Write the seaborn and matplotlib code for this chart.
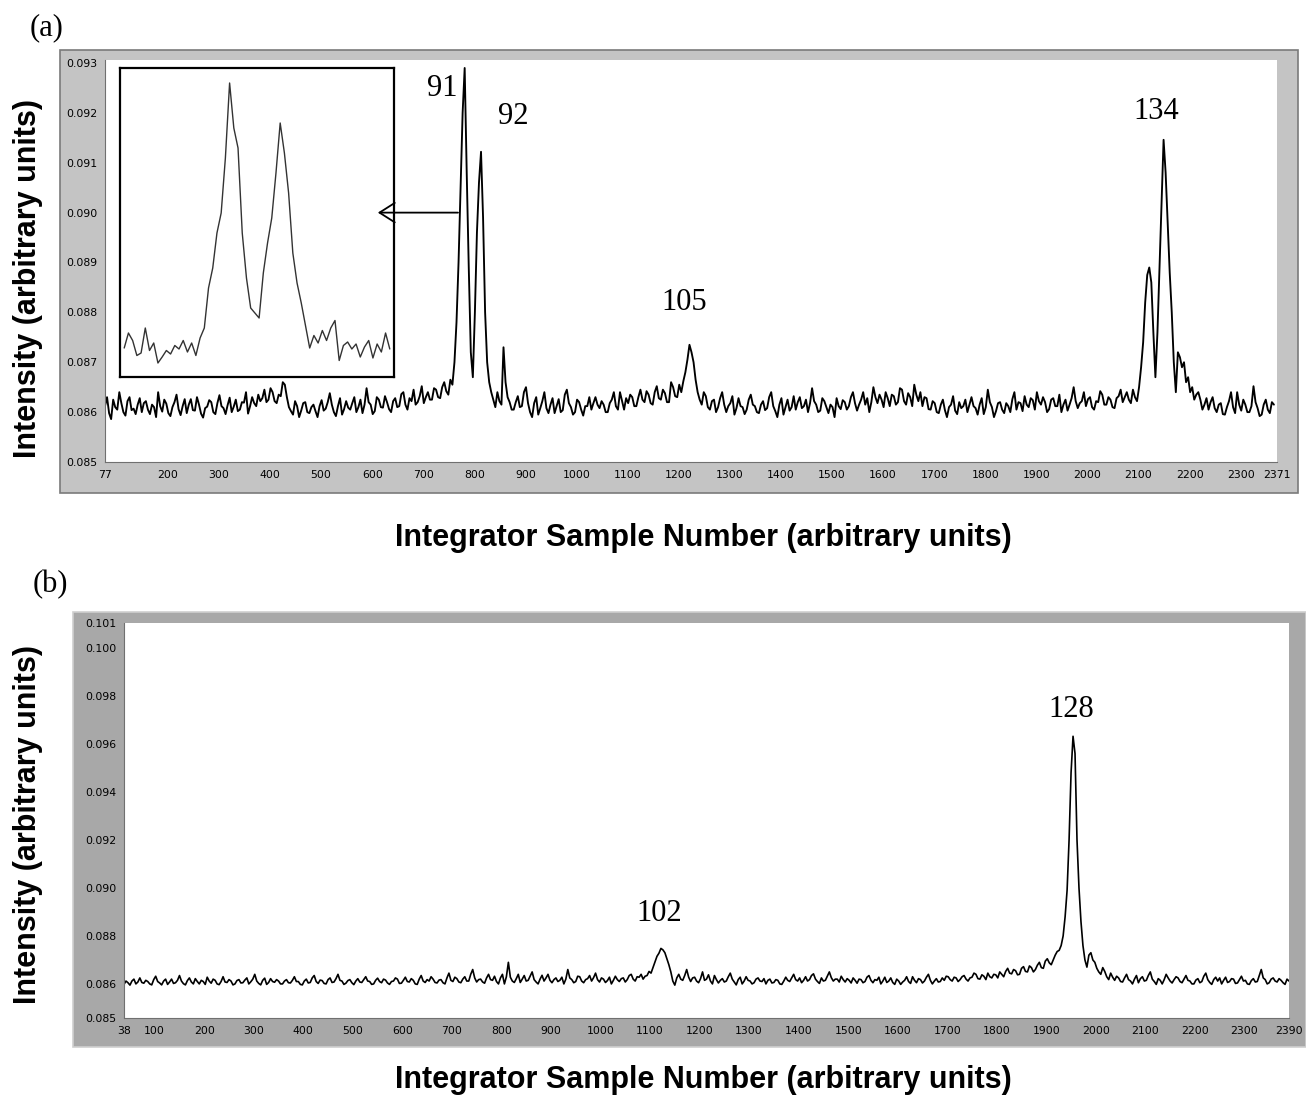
import matplotlib
matplotlib.use("Agg")
import matplotlib.pyplot as plt
import numpy as np
import pandas as pd
import seaborn as sns
from matplotlib.patches import Rectangle

W, H = 1306, 1099

# panel (a): intensity read every 4 samples starting at sample 77 (units of 1e-5)
A_START, A_STEP = 77, 4
a_values = [
    8612, 8630, 8598, 8586, 8625, 8610, 8605, 8640, 8618, 8600, 8593, 8622, 8630, 8604, 8607, 8596, 8615, 8628, 8600, 8618,
    8622, 8605, 8596, 8615, 8610, 8590, 8640, 8612, 8601, 8625, 8617, 8598, 8592, 8610, 8620, 8635, 8606, 8594, 8612, 8626,
    8598, 8615, 8626, 8604, 8603, 8630, 8615, 8597, 8589, 8608, 8611, 8624, 8620, 8600, 8596, 8618, 8634, 8612, 8608, 8596,
    8614, 8629, 8600, 8611, 8625, 8602, 8605, 8620, 8619, 8640, 8597, 8612, 8630, 8618, 8612, 8635, 8622, 8628, 8645, 8620,
    8625, 8648, 8640, 8622, 8618, 8635, 8632, 8660, 8655, 8630, 8610, 8602, 8595, 8622, 8612, 8590, 8603, 8618, 8620, 8600,
    8598, 8610, 8615, 8602, 8590, 8612, 8624, 8603, 8607, 8620, 8638, 8615, 8600, 8592, 8612, 8628, 8595, 8606, 8622, 8609,
    8605, 8618, 8630, 8600, 8610, 8625, 8598, 8615, 8648, 8620, 8615, 8596, 8602, 8630, 8625, 8610, 8609, 8632, 8620, 8606,
    8600, 8622, 8628, 8610, 8612, 8636, 8640, 8615, 8605, 8628, 8622, 8645, 8615, 8620, 8632, 8652, 8618, 8630, 8640, 8625,
    8625, 8648, 8645, 8630, 8628, 8650, 8660, 8642, 8635, 8665, 8655, 8700, 8780, 8900, 9050, 9200,
    9290, 9080, 8890, 8720, 8670, 8800, 8960, 9060, 9122, 8990, 8800, 8700, 8660, 8640, 8625, 8610,
    8640, 8622, 8615, 8730, 8660, 8630, 8620, 8605,
    8605, 8620, 8632, 8610, 8612, 8640, 8650, 8618, 8600, 8590, 8618, 8630, 8595, 8608, 8622, 8640, 8608, 8598, 8615, 8628,
    8598, 8612, 8626, 8600, 8604, 8635, 8645, 8618, 8610, 8595, 8600, 8625, 8620, 8605, 8593, 8612, 8612, 8630, 8605, 8618,
    8630, 8615, 8608, 8622, 8615, 8600, 8600, 8618, 8625, 8640, 8612, 8605, 8640, 8622, 8605, 8628, 8618, 8635, 8630, 8612,
    8612, 8630, 8645, 8625, 8620, 8642, 8635, 8618, 8615, 8640, 8652, 8628, 8625, 8645, 8638, 8620, 8620, 8660, 8650, 8632,
    8630, 8655, 8640, 8662, 8680, 8705, 8735, 8720, 8700, 8665, 8640, 8625, 8615, 8640, 8632, 8610, 8605, 8622, 8625, 8600,
    8610, 8628, 8640, 8615, 8600, 8612, 8618, 8632, 8595, 8608, 8628, 8612, 8610, 8596, 8605, 8625, 8635, 8615, 8612, 8600,
    8598, 8615, 8622, 8604, 8608, 8630, 8640, 8612, 8602, 8590, 8615, 8628, 8595, 8610, 8625, 8603, 8610, 8632, 8605, 8620,
    8630, 8608, 8612, 8625, 8600, 8618, 8648, 8622, 8615, 8600, 8603, 8628, 8622, 8610, 8598, 8615, 8610, 8590, 8628, 8612,
    8606, 8624, 8620, 8605, 8612, 8630, 8640, 8618, 8603, 8615, 8625, 8640, 8615, 8628, 8600, 8620, 8650, 8630, 8618, 8635,
    8625, 8610, 8640, 8628, 8612, 8635, 8632, 8615, 8620, 8648, 8645, 8622, 8615, 8638, 8630, 8612, 8655, 8635, 8622, 8640,
    8612, 8630, 8628, 8606, 8605, 8622, 8618, 8600, 8598, 8615, 8625, 8604, 8590, 8610, 8615, 8632, 8603, 8596, 8620, 8608,
    8612, 8625, 8600, 8615, 8630, 8612, 8608, 8595, 8615, 8628, 8596, 8610, 8645, 8620, 8610, 8590, 8602, 8618, 8620, 8605,
    8598, 8618, 8612, 8600, 8626, 8640, 8605, 8620, 8618, 8602, 8632, 8615, 8610, 8628, 8624, 8605, 8640, 8622, 8615, 8630,
    8620, 8600, 8606, 8625, 8628, 8612, 8612, 8635, 8600, 8615, 8625, 8603, 8615, 8628, 8650, 8622, 8608, 8618, 8622, 8640,
    8612, 8626, 8630, 8610, 8605, 8622, 8620, 8642, 8635, 8615, 8615, 8630, 8625, 8610, 8608, 8628, 8632, 8645, 8620, 8630,
    8640, 8625, 8618, 8645, 8630, 8622,
    8650, 8690, 8740, 8820, 8875, 8890, 8860, 8760, 8670, 8760, 8890, 9020, 9146, 9080,
    8980, 8880, 8800, 8700, 8640, 8720, 8710, 8690, 8700, 8660, 8670, 8640, 8650, 8625, 8635, 8640, 8625, 8605, 8615, 8628,
    8605, 8620, 8630, 8608, 8600, 8615, 8618, 8596, 8595, 8610, 8622, 8640, 8610, 8598, 8640, 8615, 8603, 8625, 8615, 8600,
    8600, 8612, 8652, 8620, 8608, 8592, 8595, 8615, 8625, 8605, 8598, 8620, 8615,
]

# inset of panel (a): peaks 91 / 92, every 3 samples starting at 706 (units of 1e-5)
INSET_START, INSET_STEP = 706, 3
inset_values = [
    8730, 8760, 8745, 8715, 8720, 8770, 8725, 8740, 8700, 8712,
    8725, 8718, 8735, 8728, 8745, 8722, 8740, 8715, 8750, 8770,
    8850, 8890, 8960, 9000, 9110, 9260, 9170, 9130, 8960, 8870,
    8810, 8800, 8790, 8880, 8940, 8990, 9080, 9180, 9120, 9040,
    8920, 8860, 8820, 8775, 8730, 8755, 8740, 8765, 8745, 8770,
    8785, 8705, 8735, 8742, 8728, 8738, 8712, 8732, 8745, 8710,
    8738, 8722, 8760, 8728,
]

# panel (b): intensity read every 4 samples starting at sample 38 (units of 1e-5)
B_START, B_STEP = 38, 4
b_values = [
    8598, 8612, 8605, 8595, 8612, 8620, 8600, 8608, 8625, 8606, 8603, 8615, 8610, 8600, 8596, 8618, 8632, 8610, 8604, 8596,
    8612, 8620, 8598, 8608, 8620, 8602, 8605, 8615, 8635, 8612, 8601, 8596, 8614, 8625, 8608, 8600, 8622, 8610, 8600, 8615,
    8610, 8598, 8628, 8612, 8603, 8620, 8615, 8600, 8597, 8610, 8630, 8608, 8606, 8618, 8612, 8596, 8600, 8614, 8618, 8604,
    8605, 8616, 8625, 8600, 8609, 8620, 8640, 8612, 8602, 8596, 8615, 8624, 8598, 8606, 8622, 8610, 8607, 8618, 8612, 8600,
    8600, 8612, 8618, 8605, 8604, 8615, 8630, 8610, 8610, 8598, 8596, 8612, 8620, 8604, 8606, 8625, 8635, 8610, 8602, 8616,
    8614, 8602, 8600, 8618, 8625, 8606, 8608, 8622, 8640, 8615, 8612, 8598, 8603, 8614, 8618, 8605, 8597, 8612, 8622, 8608,
    8606, 8618, 8630, 8612, 8610, 8598, 8600, 8615, 8624, 8610, 8605, 8620, 8616, 8604, 8598, 8610, 8612, 8625, 8620, 8602,
    8603, 8615, 8628, 8610, 8608, 8622, 8615, 8600, 8598, 8620, 8635, 8612, 8606, 8618, 8612, 8630, 8620, 8606, 8604, 8616,
    8618, 8605, 8600, 8625, 8645, 8615, 8610, 8628, 8622, 8608, 8605, 8620, 8630, 8612, 8612, 8640, 8660, 8625, 8608, 8618,
    8620, 8608, 8603, 8625, 8640, 8618, 8615, 8632, 8610, 8600, 8625, 8640, 8600, 8630, 8690, 8628, 8612, 8606, 8622, 8640,
    8606, 8620, 8635, 8612, 8615, 8632, 8650, 8618, 8608, 8600, 8620, 8636, 8612, 8625, 8640, 8615, 8605, 8618, 8625, 8610,
    8615, 8628, 8600, 8620, 8660, 8625, 8618, 8605, 8610, 8632, 8630, 8612, 8605, 8618, 8622, 8635, 8612, 8626, 8645, 8618,
    8608, 8625, 8620, 8606, 8614, 8628, 8600, 8615, 8632, 8618, 8610, 8622, 8625, 8608, 8618, 8635, 8640, 8620, 8612, 8630,
    8628, 8640, 8620, 8632, 8635, 8652, 8645, 8668, 8690, 8715, 8728, 8748, 8742, 8730, 8705, 8680, 8650, 8612, 8595, 8625,
    8640, 8620, 8615, 8635, 8660, 8628, 8610, 8625, 8628, 8612, 8605, 8622, 8650, 8615, 8620, 8638, 8612, 8600, 8635, 8618,
    8604, 8615, 8622, 8608, 8612, 8630, 8645, 8620, 8608, 8596, 8618, 8628, 8600, 8612, 8630, 8615, 8612, 8600, 8605, 8620,
    8625, 8612, 8610, 8622, 8600, 8615, 8620, 8604, 8606, 8618, 8615, 8600, 8598, 8612, 8628, 8615, 8610, 8625, 8640, 8618,
    8612, 8625, 8605, 8615, 8630, 8612, 8618, 8635, 8642, 8620, 8610, 8602, 8625, 8612, 8615, 8632, 8650, 8626, 8612, 8620,
    8620, 8608, 8632, 8618, 8608, 8622, 8615, 8604, 8625, 8615, 8603, 8620, 8618, 8605, 8610, 8628, 8635, 8615, 8605, 8618,
    8615, 8628, 8600, 8612, 8628, 8606, 8612, 8625, 8606, 8598, 8620, 8612, 8598, 8608, 8615, 8630, 8610, 8602, 8630, 8615,
    8605, 8622, 8618, 8604, 8612, 8628, 8640, 8615, 8600, 8612, 8622, 8608, 8610, 8625, 8615, 8632, 8630, 8618, 8612, 8628,
    8625, 8610, 8618, 8630, 8635, 8620, 8612, 8625, 8628, 8645, 8640, 8622, 8620, 8638, 8632, 8618, 8645, 8630, 8625, 8640,
    8638, 8625, 8650, 8640, 8630, 8652, 8665, 8645, 8642, 8660, 8655, 8638, 8640, 8665, 8672, 8652, 8650, 8675, 8668, 8650,
    8660, 8678, 8690, 8668, 8665, 8695, 8705, 8688, 8680, 8700, 8720, 8735,
    8740, 8760, 8800, 8880, 8990, 9200, 9480, 9632, 9560, 9200, 9000, 8860, 8760, 8700, 8670, 8720, 8730, 8700, 8690, 8665,
    8650, 8640, 8668, 8652, 8630, 8618, 8645, 8628, 8615, 8632, 8625, 8610, 8608, 8625, 8640, 8618, 8612, 8600, 8620, 8635,
    8605, 8622, 8630, 8612, 8615, 8635, 8650, 8620, 8610, 8598, 8622, 8615, 8600, 8618, 8640, 8625, 8612, 8604, 8618, 8630,
    8625, 8610, 8605, 8620, 8635, 8615, 8612, 8600, 8600, 8616, 8622, 8605, 8610, 8632, 8645, 8618, 8606, 8598, 8618, 8628,
    8612, 8625, 8600, 8615, 8628, 8606, 8610, 8622, 8620, 8602, 8604, 8618, 8632, 8612, 8615, 8600, 8598, 8614, 8622, 8608,
    8610, 8635, 8660, 8625, 8618, 8600, 8605, 8620, 8625, 8612, 8608, 8622, 8615, 8605, 8598, 8620, 8612,
]

a_xticks = [77, 100] + list(range(200, 2400, 100)) + [2371]
a_xticklabels = ["77", ""] + [str(v) for v in range(200, 2400, 100)] + ["2371"]
a_yticks = [0.085, 0.086, 0.087, 0.088, 0.089, 0.090, 0.091, 0.092, 0.093]

b_xticks = [38] + list(range(100, 2400, 100)) + [2390]
b_yticks = [0.08458, 0.086, 0.088, 0.090, 0.092, 0.094, 0.096, 0.098, 0.100, 0.10104]

a_peak_labels = ["91", "92", "105", "134"]
b_peak_labels = ["102", "128"]


def px_rect(left, top, right, bottom):
    return [left / W, 1 - bottom / H, (right - left) / W, (bottom - top) / H]


def to_frame(start, step, values):
    return pd.DataFrame({
        "sample": start + step * np.arange(len(values)),
        "intensity": np.asarray(values) / 1e5,
    })


def style_axis(ax, xticks, xticklabels, yticks):
    ax.set_xticks(xticks)
    ax.set_xticklabels(xticklabels)
    ax.set_yticks(yticks)
    ax.set_yticklabels([f"{v:.3f}" for v in yticks])
    ax.tick_params(axis="both", direction="out", length=4, width=1, labelsize=7.8,
                   colors="black", pad=1.5)
    ax.set_xlabel("")
    ax.set_ylabel("")
    ax.set_facecolor("white")
    for side in ("top", "right"):
        ax.spines[side].set_visible(False)
    for side in ("left", "bottom"):
        ax.spines[side].set_color("#707070")
        ax.spines[side].set_linewidth(0.8)


def main() -> None:
    sns.set_style("white")
    plt.rcParams["font.family"] = ["DejaVu Sans"]
    plt.rcParams["text.color"] = "black"

    fig = plt.figure(figsize=(W / 100, H / 100), dpi=100)
    fig.patch.set_facecolor("white")

    # LabVIEW style grey frames behind the plot areas
    fig.patches.append(Rectangle((60 / W, 1 - 493 / H), 1238 / W, 443 / H,
                                 transform=fig.transFigure, facecolor="#c4c4c4",
                                 edgecolor="#7a7a7a", lw=1.2, zorder=-5))
    fig.patches.append(Rectangle((73 / W, 1 - 1047 / H), (W - 73) / W, 435 / H,
                                 transform=fig.transFigure, facecolor="#a8a8a8",
                                 edgecolor="#cfcfcf", lw=1.2, zorder=-5))

    # ---- panel (a)
    ax_a = fig.add_axes(px_rect(105, 60, 1277, 462))
    sns.lineplot(data=to_frame(A_START, A_STEP, a_values), x="sample", y="intensity",
                 ax=ax_a, color="black", linewidth=1.35, estimator=None)
    ax_a.set_xlim(77, 2371)
    ax_a.set_ylim(0.085, 0.09306)
    style_axis(ax_a, a_xticks, a_xticklabels, a_yticks)

    peak_font = dict(family="Liberation Serif", fontsize=22, ha="center", va="center",
                     color="black")
    for label, x, y in zip(a_peak_labels, [738, 877, 1211, 2134],
                           [0.09248, 0.09192, 0.0882, 0.09202]):
        ax_a.text(x, y, label, **peak_font)

    ax_in = fig.add_axes(px_rect(120, 68, 394, 377))
    sns.lineplot(data=to_frame(INSET_START, INSET_STEP, inset_values), x="sample",
                 y="intensity", ax=ax_in, color="#333333", linewidth=1.0, estimator=None)
    ax_in.set_xlim(703, 898)
    ax_in.set_ylim(0.08672, 0.0929)
    ax_in.set_xticks([])
    ax_in.set_yticks([])
    ax_in.set_xlabel("")
    ax_in.set_ylabel("")
    ax_in.set_facecolor("white")
    for sp in ax_in.spines.values():
        sp.set_color("black")
        sp.set_linewidth(1.6)
    ax_in.annotate("", xy=(611, 0.0900), xycoords=ax_a.transData,
                   xytext=(768, 0.0900), textcoords=ax_a.transData,
                   arrowprops=dict(arrowstyle="->,head_length=1.1,head_width=0.7",
                                   color="black", lw=1.3, shrinkA=0, shrinkB=0),
                   annotation_clip=False)

    # ---- panel (b)
    ax_b = fig.add_axes(px_rect(124, 623, 1289, 1018))
    sns.lineplot(data=to_frame(B_START, B_STEP, b_values), x="sample", y="intensity",
                 ax=ax_b, color="black", linewidth=1.2, estimator=None)
    ax_b.set_xlim(38, 2390)
    ax_b.set_ylim(0.08458, 0.10104)
    style_axis(ax_b, b_xticks, [str(v) for v in b_xticks], b_yticks)
    for label, x, y in zip(b_peak_labels, [1118, 1950], [0.08892, 0.09742]):
        ax_b.text(x, y, label, **peak_font)

    # ---- figure level text
    letter_font = dict(family="Liberation Serif", fontsize=22, ha="center", va="center",
                       color="black")
    fig.text(47 / W, 1 - 28 / H, "(a)", **letter_font)
    fig.text(50 / W, 1 - 585 / H, "(b)", **letter_font)

    label_font = dict(family="Liberation Sans", fontsize=22, fontweight="bold",
                      ha="center", va="center", color="black")
    for yc in (278, 825):
        fig.text(28 / W, 1 - yc / H, "Intensity (arbitrary units)", rotation=90, **label_font)
    for yc in (538, 1080):
        fig.text(703 / W, 1 - yc / H, "Integrator Sample Number (arbitrary units)", **label_font)

    fig.savefig("out.png", dpi=100, facecolor="white")
    plt.close(fig)


if __name__ == "__main__":
    main()
